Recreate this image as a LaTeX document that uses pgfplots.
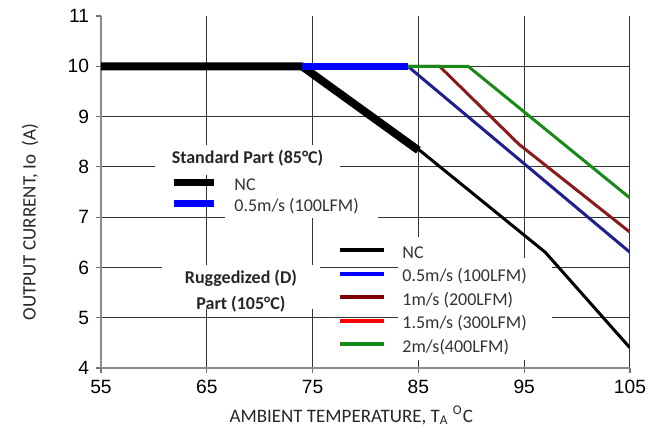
\documentclass[border=0pt]{standalone}
\usepackage{pgfplots}
\pgfplotsset{compat=1.18}
\usepackage{pgfplotstable}
\usepackage{fontspec}
\setmainfont{Carlito}
\newfontfamily\arialfont{Liberation Sans}
\definecolor{navyline}{HTML}{1F1F8F}
\definecolor{darkredline}{HTML}{8B1A1A}
\definecolor{greenline}{HTML}{178A17}
\definecolor{legdarkred}{HTML}{800000}
\definecolor{legtext}{HTML}{333333}

% Standard part (85C)
\pgfplotstableread{
x y
55 10
74 10
85 8.33
}\stdnc
\pgfplotstableread{
x y
74 10
84 10
}\stdhalf
% Ruggedized part (105C)
\pgfplotstableread{
x y
55 10
74 10
85 8.35
97 6.3
105 4.4
}\rugnc
\pgfplotstableread{
x y
84 10
105 6.3
}\rughalf
\pgfplotstableread{
x y
84 10
87 10
94.5 8.45
105 6.7
}\rugone
\pgfplotstableread{
x y
84 10
89.7 10
105 7.38
}\rugtwo

\begin{document}
\begin{tikzpicture}
\path[use as bounding box] (-50.5pt,-32pt) rectangle (274.5pt,184pt);
\pgfplotsset{base/.style={width=264.5pt,height=176pt,scale only axis,
  xmin=55,xmax=105,ymin=4,ymax=11}}
% ---------- axis A: frame, grid, labels, ruggedized legend ----------
\begin{axis}[base,
  axis x line*=bottom, axis y line*=left,
  axis line style={draw=black!45,line width=0.7pt},
  xtick={55,65,...,105}, ytick={4,5,...,10},
  extra y ticks={11}, extra y tick style={grid=none},
  tick align=outside, major tick length=2.5pt,
  tick style={draw=black!55,line width=0.6pt},
  grid=major, major grid style={draw=black!80,line width=0.5pt},
  ticklabel style={font=\arialfont\fontsize{9.6}{11}\selectfont, text=black},
  /pgf/number format/assume math mode=true,
  xlabel={AMBIENT TEMPERATURE, T\textsubscript{A} \textsuperscript{O}C},
  ylabel={OUTPUT CURRENT, Io\ \ (A)},
  xlabel style={at={(axis description cs:0.473,-0.134)}, anchor=center,
    font=\fontsize{9.5}{11}\selectfont, text=black!85},
  ylabel style={at={(axis description cs:-0.134,0.415)}, anchor=center,
    font=\fontsize{9.5}{11}\selectfont, text=black!85},
  legend cell align=left,
  legend style={at={(axis cs:77.40,6.447)}, anchor=north west, draw=none, fill=none,
    inner sep=0pt, font=\fontsize{9}{10}\selectfont, text=legtext,
    nodes={inner sep=0pt, text height=6.5pt, text depth=1.5pt}, row sep=3.75pt},
  legend image code/.code={\draw[#1] (0pt,1.5pt) -- (22pt,1.5pt); \path (30pt,0pt);},
]
% white backgrounds behind the legend texts
\fill[white] (axis cs:60.10,8.435) rectangle (axis cs:77.59,7.838);
\fill[white] (axis cs:66.72,7.838) rectangle (axis cs:81.18,6.983);
\fill[white] (axis cs:60.77,6.049) rectangle (axis cs:75.70,5.174);
\fill[white] (axis cs:83.07,6.188) rectangle (axis cs:97.63,4.160);
\fill[white] (axis cs:83.07,6.606) rectangle (axis cs:92.71,6.188);
\node[font=\bfseries\fontsize{9}{10}\selectfont, text=black!85] at (axis cs:68.85,8.18) {Standard Part (85°C)};
\node[font=\bfseries\fontsize{9}{10}\selectfont, text=black!85, align=center] at (axis cs:68.23,5.532) {Ruggedized (D)\\[3pt]Part (105°C)};
\addlegendimage{black,line width=2pt}
\addlegendentry{NC}
\addlegendimage{blue,line width=2pt}
\addlegendentry{0.5m/s (100LFM)}
\addlegendimage{legdarkred,line width=2pt}
\addlegendentry{1m/s (200LFM)}
\addlegendimage{red,line width=2pt}
\addlegendentry{1.5m/s (300LFM)}
\addlegendimage{greenline,line width=2pt}
\addlegendentry{2m/s(400LFM)}
\end{axis}
% ---------- axis C: data and standard legend ----------
\begin{axis}[base, hide axis,
  legend cell align=left,
  legend style={at={(axis cs:61.52,7.799)}, anchor=north west, draw=none, fill=none,
    inner sep=0pt, font=\fontsize{9}{10}\selectfont, text=legtext,
    nodes={inner sep=0pt, text height=6.5pt, text depth=1.5pt}, row sep=2.5pt},
  legend image code/.code={\draw[#1] (0pt,1.5pt) -- (20pt,1.5pt); \path (28.5pt,0pt);},
]
\addplot[navyline, line width=1.5pt, line join=round, forget plot] table {\rughalf};
\addplot[darkredline, line width=1.5pt, line join=round, forget plot] table {\rugone};
\addplot[greenline, line width=1.5pt, line join=round, forget plot] table {\rugtwo};
\addplot[black, line width=1.5pt, line join=round, forget plot] table {\rugnc};
\addplot[black, line width=4pt, line join=round, forget plot] table {\stdnc};
\addplot[blue, line width=3.5pt, forget plot] table {\stdhalf};
\addlegendimage{black,line width=3.5pt}
\addlegendentry{NC}
\addlegendimage{blue,line width=3.5pt}
\addlegendentry{0.5m/s (100LFM)}
\end{axis}
\end{tikzpicture}
\end{document}
